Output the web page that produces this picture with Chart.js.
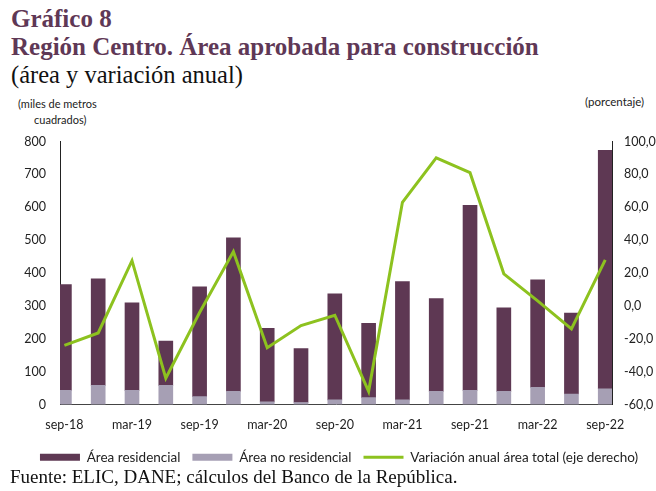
<!DOCTYPE html>
<html>
<head>
<meta charset="utf-8">
<script src="https://cdn.jsdelivr.net/npm/chart.js@4"></script>
<style>
  body { margin: 0; background: #fff; width: 656px; height: 491px; position: relative; overflow: hidden; }
  .t { position: absolute; left: 11px; white-space: nowrap; font-family: "Liberation Serif", serif; }
  #t1 { top: 5px; font-size: 25px; font-weight: bold; color: #5f3856; }
  #t2 { top: 33px; font-size: 25px; font-weight: bold; color: #5f3856; }
  #t3 { top: 61px; font-size: 24.5px; color: #111; }
  #src { top: 466px; font-size: 19px; color: #111; left: 10px; }
  .ax { position: absolute; font-family: Lato, sans-serif; font-size: 11px; color: #222; }
  #axl { left: 18px; top: 96px; text-align: center; line-height: 16px; }
  #axr { left: 585px; top: 95px; font-size: 11.5px; }
  #wrap { position: absolute; left: 11px; top: 120px; width: 656px; height: 354px; }
</style>
</head>
<body>
<div class="t" id="t1">Gráfico 8</div>
<div class="t" id="t2">Región Centro. Área aprobada para construcción</div>
<div class="t" id="t3">(área y variación anual)</div>
<div class="ax" id="axl">(miles de metros<br>&nbsp;&nbsp;cuadrados)</div>
<div class="ax" id="axr">(porcentaje)</div>
<div id="wrap"><canvas id="chart"></canvas></div>
<div class="t" id="src">Fuente: ELIC, DANE; cálculos del Banco de la República.</div>
<script>
// trimestres sep-18 .. sep-22
const labels = ['sep-18','dic-18','mar-19','jun-19','sep-19','dic-19','mar-20','jun-20','sep-20',
  'dic-20','mar-21','jun-21','sep-21','dic-21','mar-22','jun-22','sep-22'];
// miles de m2
const noResidencial = [43, 58, 43, 58, 24, 40, 8, 6, 14, 21, 14, 40, 43, 40, 52, 32, 48];
const residencial = [322, 324, 266, 135, 334, 467, 224, 164, 323, 226, 360, 282, 563, 254, 327, 246, 725];
// variacion anual area total (%)
const variacion = [-24, -16.5, 27.5, -44, -4, 33, -25.5, -12, -5.7, -52, 63, 90, 81, 19.5, 3, -14, 28];

const font = { family: 'Lato, sans-serif', size: 12.5 };
const pts = arr => arr.map((v, i) => ({ x: i, y: v }));
const legendOrder = [1, 0, 2];

new Chart(document.getElementById('chart'), {
  type: 'bar',
  data: {
    datasets: [
      {
        label: 'Área no residencial',
        data: pts(noResidencial),
        backgroundColor: '#a69fb4',
        yAxisID: 'y',
        stack: 's',
        order: 2,
        barThickness: 14,
        pointStyle: 'rect'
      },
      {
        label: 'Área residencial',
        data: pts(residencial),
        backgroundColor: '#5e3853',
        yAxisID: 'y',
        stack: 's',
        order: 2,
        barThickness: 14,
        pointStyle: 'rect'
      },
      {
        type: 'line',
        label: 'Variación anual área total (eje derecho)',
        data: pts(variacion),
        borderColor: '#8dc21f',
        backgroundColor: '#8dc21f',
        borderWidth: 3,
        pointRadius: 0,
        tension: 0,
        yAxisID: 'y1',
        order: 1,
        pointStyle: 'line'
      }
    ]
  },
  options: {
    responsive: true,
    maintainAspectRatio: false,
    animation: false,
    layout: { padding: { top: 1, left: 0, right: 0, bottom: 0 } },
    plugins: {
      tooltip: { enabled: false },
      legend: {
        position: 'bottom',
        labels: {
          usePointStyle: true,
          pointStyleWidth: 40,
          boxHeight: 7,
          padding: 12,
          color: '#222',
          font: { family: 'Lato, sans-serif', size: 13.5 },
          sort: (a, b) => legendOrder.indexOf(a.datasetIndex) - legendOrder.indexOf(b.datasetIndex)
        }
      }
    },
    scales: {
      x: {
        type: 'linear',
        stacked: true,
        offset: false,
        min: -0.13,
        max: 16.2,
        grid: { display: false, drawTicks: false },
        border: { color: '#444', width: 1 },
        afterBuildTicks: s => {
          s.ticks = labels.map((l, i) => ({ value: i })).filter(t => t.value % 2 === 0);
        },
        ticks: {
          autoSkip: false,
          maxRotation: 0,
          padding: 13,
          color: '#222',
          font,
          callback: v => labels[v]
        },
        afterFit: s => { s.height = 34; }
      },
      y: {
        stacked: true,
        position: 'left',
        min: 0, max: 800,
        grid: { display: false, drawTicks: false },
        border: { color: '#222', width: 1 },
        ticks: { stepSize: 100, padding: 14, color: '#222', font },
        afterFit: s => { s.width = 49; }
      },
      y1: {
        position: 'right',
        min: -60, max: 100,
        grid: { display: false, drawTicks: false },
        border: { color: '#222', width: 1 },
        ticks: {
          stepSize: 20, padding: 12, color: '#222', font,
          callback: v => v.toFixed(1).replace('.', ',')
        },
        afterFit: s => { s.width = 55; }
      }
    }
  }
});
</script>
</body>
</html>
